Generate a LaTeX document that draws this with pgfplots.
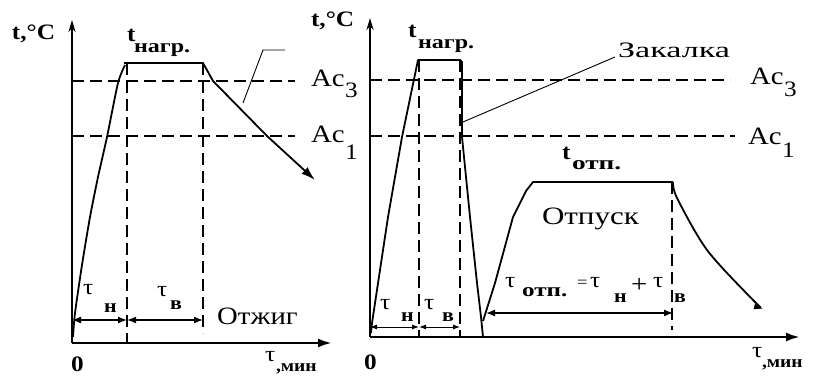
\documentclass[border=0pt]{standalone}
\usepackage{pgfplots}
\pgfplotsset{compat=1.18}
\usepackage{graphicx}
\usepackage{fontspec}
\setmainfont{Liberation Serif}[FakeStretch=1.15]
\usetikzlibrary{arrows.meta}

\newcommand{\fbig}{\fontsize{25}{27}\selectfont}
\newcommand{\fmed}{\fontsize{22}{24}\selectfont}
\newcommand{\fsub}{\fontsize{19}{21}\selectfont\bfseries}

\tikzset{lab/.style={anchor=base west, inner sep=0pt, outer sep=0pt}}
\pgfplotsset{
  panel/.style={
    x=1pt, y=1pt, disabledatascaling,
    axis lines=left,
    xtick=\empty, ytick=\empty,
    clip=false,
    axis line style={line width=2.6pt},
    x axis line style={-{Latex[length=14pt,width=9pt]}},
    y axis line style={-{Stealth[length=12pt,width=7pt]}},
    anchor=south west,
  },
  curve/.style={line width=1.8pt, black, mark=none, line join=round},
  dsh/.style={line width=1.1pt, black, dash pattern=on 12pt off 6pt, mark=none},
  thinl/.style={line width=0.9pt, black, mark=none},
  dim/.style={line width=1.3pt, black, mark=none, {Latex[length=9pt,width=7pt]}-{Latex[length=9pt,width=7pt]}},
  dims/.style={line width=0.9pt, black, mark=none, {Latex[length=7pt,width=5pt]}-{Latex[length=7pt,width=5pt]}},
}

\begin{document}
\begin{tikzpicture}
% ---------------- Left panel: annealing ----------------
\begin{axis}[panel, at={(72pt,36pt)}, xmin=72, xmax=332, ymin=36, ymax=359]
  \addplot[dsh] coordinates {(72,298) (295,298)};
  \addplot[dsh] coordinates {(72,243) (295,243)};
  \addplot[dsh] coordinates {(127,316) (127,36)};
  \addplot[dsh] coordinates {(203,316) (203,46)};
  \addplot[curve, smooth, tension=0.4] coordinates {
    (73,42) (75,66) (82,114) (90,162) (98,202) (107,242) (118,296) (125,314)};
  \addplot[curve, -{Latex[length=14pt,width=9pt]}] coordinates {
    (124,316) (203,316) (213,298) (267,243) (315,199)};
  \addplot[thinl] coordinates {(243,276) (263,329) (285,329)};
  \addplot[dim] coordinates {(72,59) (127,59)};
  \addplot[dim] coordinates {(127,59) (203,59)};
  \node[lab] at (axis cs:12,339) {\fmed\bfseries t,°C};
  \node[lab] at (axis cs:127,337) {\fmed\bfseries t};
  \node[lab] at (axis cs:134,326) {\scalebox{1.1}[1]{\fsub нагр.}};
  \node[lab] at (axis cs:311,292) {\fbig Ac};
  \node[lab] at (axis cs:345,281) {\fmed 3};
  \node[lab] at (axis cs:311,236) {\fbig Ac};
  \node[lab] at (axis cs:345,219) {\fmed 1};
  \node[lab] at (axis cs:83,84) {\fmed τ};
  \node[lab] at (axis cs:104,66) {\fsub н};
  \node[lab] at (axis cs:157,82) {\fmed τ};
  \node[lab] at (axis cs:170,69) {\fsub в};
  \node[lab] at (axis cs:217,54) {\fbig Отжиг};
  \node[lab] at (axis cs:71,7) {\fmed\bfseries 0};
  \node[lab] at (axis cs:265,17) {\fmed τ};
  \node[lab] at (axis cs:276,7) {\fontsize{17}{19}\selectfont\bfseries ,мин};
\end{axis}
% ---------------- Right panel: quenching + tempering ----------------
\begin{axis}[panel, at={(370pt,42pt)}, xmin=370, xmax=800, ymin=42, ymax=361]
  \addplot[dsh] coordinates {(370,299) (730,299)};
  \addplot[dsh] coordinates {(370,243) (735,243)};
  \addplot[dsh] coordinates {(419,319) (419,42)};
  \addplot[dsh] coordinates {(460,319) (460,42)};
  \addplot[dsh] coordinates {(672,197) (672,49)};
  % heating, hold, quench, tempering, hold
  \addplot[curve] coordinates {
    (371,46) (372,56) (388,162) (402,242) (418,319)
    (460,319) (462,317) (462,242) (470,162) (477,96) (481,62) (483,42)};
  \addplot[curve] coordinates {
    (483,58) (495,96) (513,162) (526,188) (533,197) (673,197)};
  \addplot[curve, smooth, tension=0.5, -{Latex[length=10pt,width=6pt]}] coordinates {
    (673,197) (677,181) (707,129) (753,79) (764,70)};
  \addplot[thinl] coordinates {(463,257) (615,322)};
  \addplot[dims] coordinates {(370,52) (419,52)};
  \addplot[dims] coordinates {(419,52) (460,52)};
  \addplot[dim] coordinates {(486,66) (673,66)};
  \node[lab] at (axis cs:311,352) {\fmed\bfseries t,°C};
  \node[lab] at (axis cs:408,341) {\fmed\bfseries t};
  \node[lab] at (axis cs:418,330) {\scalebox{1.1}[1]{\fsub нагр.}};
  \node[lab] at (axis cs:618,321) {\scalebox{1.35}[1]{\fmed Закалка}};
  \node[lab] at (axis cs:750,294) {\fbig Ac};
  \node[lab] at (axis cs:784,282) {\fmed 3};
  \node[lab] at (axis cs:748,234) {\fbig Ac};
  \node[lab] at (axis cs:782,221) {\fmed 1};
  \node[lab] at (axis cs:562,219) {\fmed\bfseries t};
  \node[lab] at (axis cs:572,209) {\scalebox{1.25}[1]{\fsub отп.}};
  \node[lab] at (axis cs:542,154) {\scalebox{1.08}[1]{\fbig Отпуск}};
  \node[lab] at (axis cs:380,69) {\fmed τ};
  \node[lab] at (axis cs:401,57) {\fsub н};
  \node[lab] at (axis cs:424,69) {\fmed τ};
  \node[lab] at (axis cs:442,57) {\fsub в};
  \node[lab] at (axis cs:505,91) {\fmed τ};
  \node[lab] at (axis cs:522,82) {\scalebox{1.15}[1]{\fsub отп.}};
  \node[lab] at (axis cs:577,91) {\fontsize{16}{18}\selectfont =};
  \node[lab] at (axis cs:590,91) {\fmed τ};
  \node[lab] at (axis cs:614,76) {\fsub н};
  \node[lab] at (axis cs:631,86) {\fbig +};
  \node[lab] at (axis cs:653,91) {\fmed τ};
  \node[lab] at (axis cs:674,76) {\fsub в};
  \node[lab] at (axis cs:364,9) {\fmed\bfseries 0};
  \node[lab] at (axis cs:752,21) {\fmed τ};
  \node[lab] at (axis cs:762,11) {\fontsize{17}{19}\selectfont\bfseries ,мин};
\end{axis}
\pgfresetboundingbox
\path (0pt,0pt) rectangle (837pt,379pt);
\end{tikzpicture}
\end{document}
